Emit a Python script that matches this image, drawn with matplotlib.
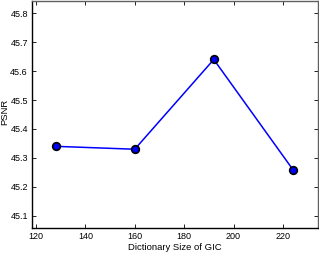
import matplotlib
matplotlib.use("Agg")
import matplotlib.pyplot as plt

dict_size = [128, 160, 192, 224]
psnr = [45.34, 45.33, 45.64, 45.26]
x_ticks = [120, 140, 160, 180, 200, 220]
y_ticks = [45.1, 45.2, 45.3, 45.4, 45.5, 45.6, 45.7, 45.8]

plt.rcParams['font.family'] = ['Liberation Sans', 'DejaVu Sans']
plt.rcParams['font.size'] = 6.5

fig = plt.figure(figsize=(3.19, 2.54), dpi=100)
ax = fig.add_axes([0.1003, 0.1024, 0.8966, 0.8937])

ax.plot(dict_size, psnr, color='blue', lw=1.1, marker='o', markersize=5.5,
        markerfacecolor='blue', markeredgecolor='black', markeredgewidth=1.2)

ax.set_xlim(118.4, 234.2)
ax.set_ylim(45.058, 45.842)
ax.set_xticks(x_ticks)
ax.set_yticks(y_ticks)
ax.set_yticklabels([f"{v:.1f}" for v in y_ticks])
ax.tick_params(direction='in', top=True, right=True, length=3, width=0.6,
               labelsize=6.5, pad=3)
for s in ax.spines.values():
    s.set_linewidth(1.0)
ax.spines['top'].set_color('#606060')
ax.spines['right'].set_color('#606060')

ax.set_xlabel('Dictionary Size of GIC', fontsize=6.8, labelpad=1.5)
ax.set_ylabel('PSNR', fontsize=6.8)
ax.yaxis.set_label_coords(-0.08, 0.51)

fig.savefig('out.png', dpi=100)
